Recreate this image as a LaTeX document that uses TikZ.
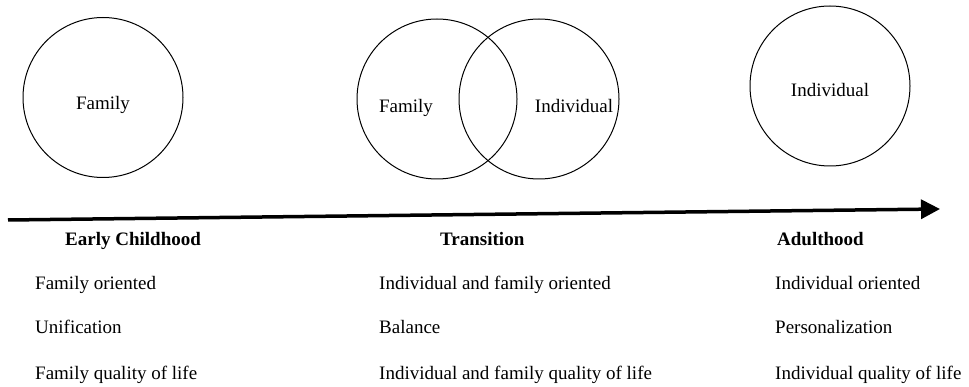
\documentclass[tikz,border=0pt]{standalone}
\usepackage{fontspec}
\setmainfont{Liberation Serif}
\usetikzlibrary{arrows.meta}
\begin{document}
\begin{tikzpicture}[x=1pt,y=-1pt,
  ring/.style={draw=black, line width=1pt, circle, minimum size=160pt, inner sep=0pt},
  lbl/.style={font=\fontsize{19}{22}\selectfont, inner sep=0pt, anchor=base},
  head/.style={font=\fontsize{19}{22}\selectfont\bfseries, inner sep=0pt, anchor=base west},
  item/.style={font=\fontsize{19}{22}\selectfont, inner sep=0pt, anchor=base west},
  timeline/.style={line width=3.5pt, -{Triangle[length=19pt,width=19pt]}}]
\useasboundingbox (0,0) rectangle (969,387);
% circles
\node[ring] (c1) at (103,97.5) {};
\node[ring] (vf) at (437,99) {};
\node[ring] (vi) at (539,99) {};
\node[ring] (c3) at (830,86) {};
% circle labels
\node[lbl] (t1) at (103,110) {Family};
\node[lbl] (t2) at (406,113) {Family};
\node[lbl] (t3) at (574,113) {Individual};
\node[lbl] (t4) at (830,97) {Individual};
% timeline
\coordinate (a0) at (8,220);
\coordinate (a1) at (940,209);
\draw[timeline] (a0) -- (a1);
% column headings
\node[head] (h1) at (65,246) {Early Childhood};
\node[head] (h2) at (440,246) {Transition};
\node[head] (h3) at (777,246) {Adulthood};
% items
\node[item] (e1) at (35,290) {Family oriented};
\node[item] (e2) at (35,334) {Unification};
\node[item] (e3) at (35,379) {Family quality of life};
\node[item] (m1) at (379,290) {Individual and family oriented};
\node[item] (m2) at (379,334) {Balance};
\node[item] (m3) at (379,379) {Individual and family quality of life};
\node[item] (r1) at (775,290) {Individual oriented};
\node[item] (r2) at (775,334) {Personalization};
\node[item] (r3) at (775,379) {Individual quality of life};
\end{tikzpicture}
\end{document}
